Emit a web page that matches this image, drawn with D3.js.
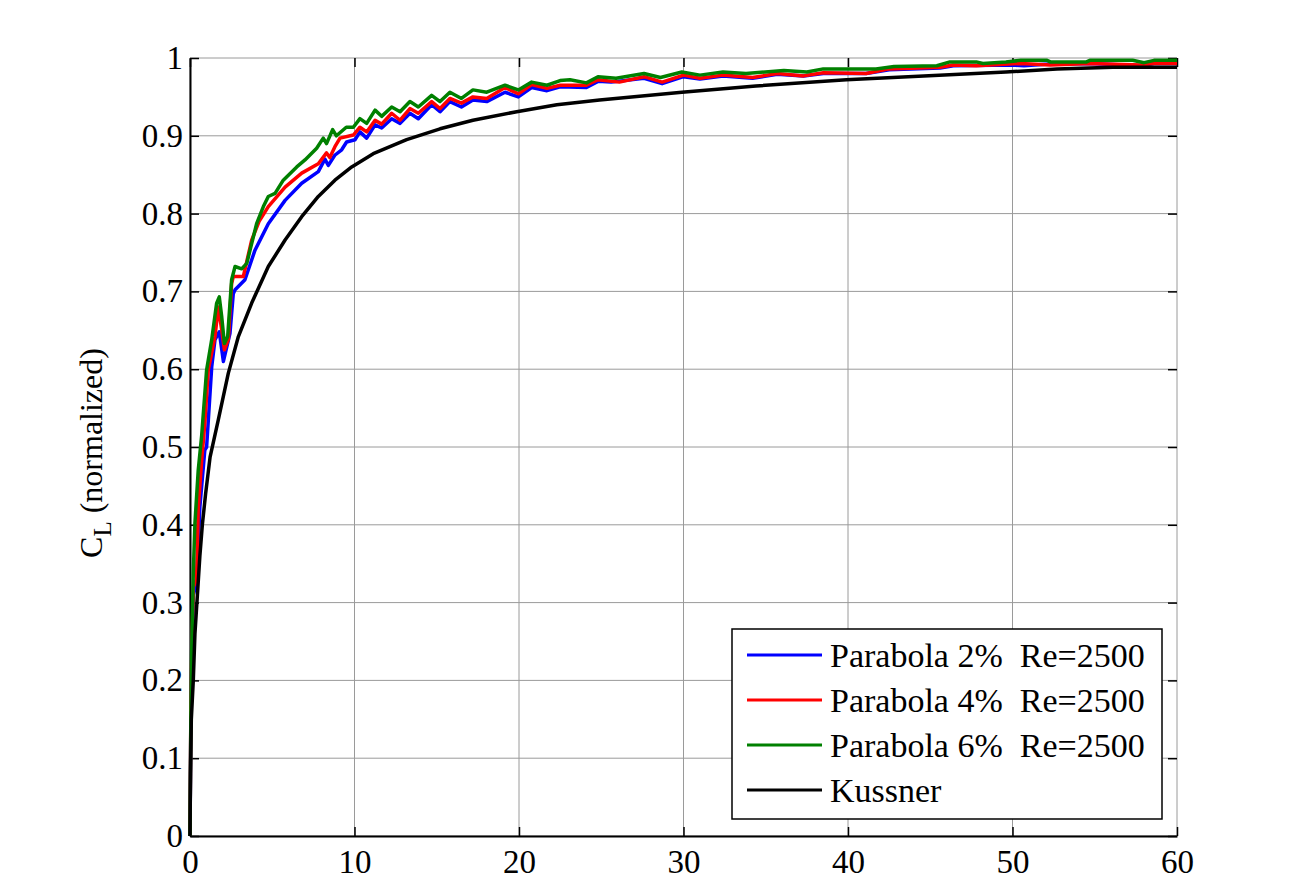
<!DOCTYPE html>
<html lang="en">
<head>
  <meta charset="UTF-8">
  <script src="https://d3js.org/d3.v7.min.js"></script>
  <title>Normalized lift vs time</title>
  <style>
    body {
      margin: 0;
      background-color: white;
    }
  </style>
</head>
<body>
  <div id="chart"></div>

<script>
  var FONT = "'Liberation Serif', 'Times New Roman', Tinos, 'DejaVu Serif', serif";

  // tick values and labels
  var xTicks = [0, 10, 20, 30, 40, 50, 60];
  var yTicks = [0, 0.1, 0.2, 0.3, 0.4, 0.5, 0.6, 0.7, 0.8, 0.9, 1];
  var yTickLabels = ["0", "0.1", "0.2", "0.3", "0.4", "0.5", "0.6", "0.7", "0.8", "0.9", "1"];

  var seriesNames = ["Parabola 2%  Re=2500", "Parabola 4%  Re=2500", "Parabola 6%  Re=2500", "Kussner"];
  var seriesColors = ["#0000ff", "#ff0000", "#008000", "#000000"];

  // [time, CL normalized]
  var parabola2 = [[0,0],[0.05,0.14],[0.1,0.21],[0.2,0.31],[0.4,0.325],[0.6,0.423],[0.9,0.496],[1.01,0.5],[1.32,0.603],
    [1.52,0.638],[1.78,0.648],[2.03,0.61],[2.43,0.646],[2.63,0.697],[2.74,0.702],[3.34,0.715],[3.95,0.753],[4.76,0.787],
    [5.78,0.817],[6.79,0.839],[7.8,0.854],[8.2,0.87],[8.41,0.862],[8.8,0.875],[9.22,0.882],[9.52,0.892],[10.03,0.895],
    [10.33,0.905],[10.74,0.897],[11.25,0.914],[11.65,0.91],[12.26,0.922],[12.77,0.916],[13.37,0.929],[13.88,0.922],
    [14.69,0.94],[15.2,0.931],[15.8,0.944],[16.5,0.937],[17.2,0.946],[18.04,0.944],[19.15,0.956],[19.96,0.95],
    [20.77,0.962],[21.7,0.958],[22.5,0.963],[24.1,0.962],[24.8,0.97],[25.6,0.969],[27.6,0.974],[28.7,0.967],[30,0.976],
    [31,0.973],[32.4,0.977],[34.2,0.974],[35.7,0.979],[37.3,0.977],[38.5,0.98],[41.1,0.98],[42.5,0.985],[45.6,0.987],
    [46.4,0.99],[50,0.991],[50.7,0.99],[52,0.992],[54.7,0.993],[57.8,0.99],[58.6,0.993],[60,0.993]];

  var parabola4 = [[0,0],[0.05,0.15],[0.1,0.22],[0.2,0.32],[0.4,0.33],[0.5,0.42],[0.7,0.48],[0.9,0.53],[1.11,0.599],
    [1.52,0.642],[1.72,0.68],[1.93,0.65],[2.09,0.625],[2.33,0.638],[2.53,0.71],[2.63,0.719],[3.24,0.719],[3.75,0.766],
    [4.2,0.79],[4.76,0.809],[5.78,0.834],[6.79,0.852],[7.8,0.864],[8.3,0.878],[8.5,0.872],[8.81,0.886],[9.12,0.897],
    [9.93,0.901],[10.33,0.911],[10.74,0.905],[11.25,0.92],[11.65,0.915],[12.26,0.929],[12.77,0.92],[13.37,0.935],
    [13.88,0.929],[14.69,0.944],[15.2,0.935],[15.8,0.948],[16.5,0.942],[17.2,0.95],[18.04,0.948],[19.15,0.962],
    [19.96,0.954],[20.77,0.966],[21.7,0.961],[22.5,0.965],[24.1,0.965],[24.8,0.972],[26.1,0.969],[27.6,0.976],
    [28.7,0.969],[30,0.978],[31,0.974],[32.4,0.978],[34.2,0.975],[35.7,0.98],[37.3,0.977],[38.5,0.981],[41.1,0.98],
    [42.5,0.986],[45.6,0.988],[46.4,0.991],[47.8,0.99],[50.5,0.993],[52.3,0.991],[54.7,0.993],[57.8,0.991],
    [58.6,0.993],[60,0.993]];

  var parabola6 = [[0,0],[0.05,0.15],[0.1,0.235],[0.2,0.338],[0.3,0.402],[0.5,0.47],[0.71,0.515],[1.01,0.599],
    [1.32,0.638],[1.62,0.685],[1.78,0.693],[1.93,0.667],[2.09,0.633],[2.29,0.642],[2.53,0.715],[2.74,0.732],
    [3.14,0.729],[3.45,0.736],[3.65,0.753],[4.05,0.787],[4.46,0.809],[4.76,0.822],[5.17,0.826],[5.67,0.843],
    [6.49,0.86],[6.99,0.869],[7.7,0.884],[8.1,0.897],[8.3,0.89],[8.67,0.908],[8.9,0.9],[9.5,0.911],[9.93,0.911],
    [10.33,0.922],[10.74,0.916],[11.25,0.933],[11.65,0.925],[12.26,0.937],[12.77,0.931],[13.37,0.944],[13.88,0.937],
    [14.69,0.952],[15.2,0.944],[15.8,0.956],[16.5,0.948],[17.2,0.959],[18.04,0.956],[19.15,0.965],[19.96,0.959],
    [20.77,0.969],[21.7,0.965],[22.5,0.971],[23.1,0.972],[24.1,0.968],[24.8,0.976],[25.9,0.974],[27.6,0.98],
    [28.6,0.975],[29.9,0.982],[31,0.978],[32.4,0.982],[33.8,0.98],[36.1,0.984],[37.5,0.982],[38.5,0.986],
    [41.7,0.986],[42.8,0.989],[45.4,0.99],[46.2,0.995],[47.8,0.995],[48.2,0.993],[49.6,0.995],[50.5,0.997],
    [52.1,0.997],[52.3,0.995],[54.5,0.995],[54.7,0.997],[57.3,0.997],[58,0.994],[58.6,0.997],[60,0.997]];

  var kussner = [[0,0],[0.03,0.08],[0.08,0.15],[0.2,0.2],[0.3,0.26],[0.45,0.31],[0.6,0.36],[0.75,0.4],[0.95,0.44],
    [1.22,0.487],[1.72,0.535],[2.33,0.595],[2.94,0.642],[3.75,0.685],[4.76,0.732],[5.78,0.766],[6.79,0.796],
    [7.8,0.822],[8.81,0.843],[9.83,0.86],[11.14,0.877],[13.17,0.895],[15.2,0.909],[17.2,0.92],[19.86,0.931],
    [22.3,0.94],[24.9,0.946],[29.9,0.956],[34.4,0.964],[39.9,0.972],[44.6,0.977],[49.6,0.982],[52.7,0.986],
    [56.1,0.988],[60,0.988]];

  var allSeries = [parabola2, parabola4, parabola6, kussner];

  var W = 1308, H = 888;
  var margin = { top: 58, right: 131, bottom: 52, left: 190 },
    width = W - margin.left - margin.right,
    height = H - margin.top - margin.bottom;

  var svg = d3.select("#chart")
    .append("svg")
    .attr("width", W)
    .attr("height", H)
    .append("g")
    .attr("transform", "translate(" + margin.left + "," + margin.top + ")");

  var x = d3.scaleLinear().domain([0, 60]).range([0, width]);
  var y = d3.scaleLinear().domain([0, 1]).range([height, 0]);

  // grid
  svg.append("g").selectAll("line")
    .data(xTicks)
    .enter().append("line")
    .attr("x1", d => x(d)).attr("x2", d => x(d))
    .attr("y1", 0).attr("y2", height)
    .attr("stroke", "#9a9a9a").attr("stroke-width", 1);
  svg.append("g").selectAll("line")
    .data(yTicks)
    .enter().append("line")
    .attr("x1", 0).attr("x2", width)
    .attr("y1", d => y(d)).attr("y2", d => y(d))
    .attr("stroke", "#9a9a9a").attr("stroke-width", 1);

  // axes with inward ticks
  var xAxis = svg.append("g")
    .attr("transform", "translate(0," + height + ")")
    .call(d3.axisBottom(x).tickValues(xTicks).tickFormat(d3.format("d"))
      .tickSizeInner(-9).tickSizeOuter(0).tickPadding(14));
  var yAxis = svg.append("g")
    .call(d3.axisLeft(y).tickValues(yTicks).tickFormat((d, i) => yTickLabels[i])
      .tickSizeInner(-9).tickSizeOuter(0).tickPadding(7));
  svg.append("g")
    .call(d3.axisTop(x).tickValues(xTicks).tickFormat("").tickSizeInner(-9).tickSizeOuter(0))
    .select(".domain").remove();
  svg.append("g")
    .attr("transform", "translate(" + width + ",0)")
    .call(d3.axisRight(y).tickValues(yTicks).tickFormat("").tickSizeInner(-9).tickSizeOuter(0))
    .select(".domain").remove();

  svg.selectAll(".tick line").attr("stroke", "black").attr("stroke-width", 1.5);
  [xAxis, yAxis].forEach(a => {
    a.attr("font-family", null);
    a.select(".domain").attr("stroke", "black").attr("stroke-width", 2);
    a.selectAll("text")
      .attr("font-family", FONT)
      .style("font-family", FONT)
      .style("font-size", "33px")
      .attr("fill", "black");
  });

  // data lines
  var line = d3.line()
    .x(d => x(d[0]))
    .y(d => y(d[1]));

  svg.selectAll(".series")
    .data(allSeries)
    .enter()
    .append("path")
    .attr("class", "series")
    .attr("d", line)
    .attr("fill", "none")
    .attr("stroke", (d, i) => seriesColors[i])
    .attr("stroke-width", 3.5)
    .attr("stroke-linejoin", "round");

  // y label
  var yl = svg.append("text")
    .attr("transform", "translate(-88," + (height / 2 + 6) + ") rotate(-90)")
    .attr("text-anchor", "middle")
    .style("font-family", FONT)
    .style("font-size", "32px");
  yl.append("tspan").text("C");
  yl.append("tspan").attr("dy", 9).style("font-size", "25px").text("L");
  yl.append("tspan").attr("dy", -9).style("white-space", "pre").text(" (normalized)");

  // legend
  var legend = svg.append("g")
    .attr("transform", "translate(" + (732 - margin.left) + "," + (629 - margin.top) + ")");
  legend.append("rect")
    .attr("width", 430).attr("height", 190)
    .attr("fill", "white").attr("stroke", "black").attr("stroke-width", 1.5);
  var items = legend.selectAll(".item")
    .data(seriesNames)
    .enter().append("g")
    .attr("transform", (d, i) => "translate(0," + (26 + i * 45) + ")");
  items.append("line")
    .attr("x1", 15).attr("x2", 90)
    .attr("stroke", (d, i) => seriesColors[i])
    .attr("stroke-width", 3);
  items.append("text")
    .attr("x", 98).attr("y", 12)
    .style("font-family", FONT)
    .style("font-size", "34px")
    .style("white-space", "pre")
    .text(d => d);
</script>
</body>
</html>
